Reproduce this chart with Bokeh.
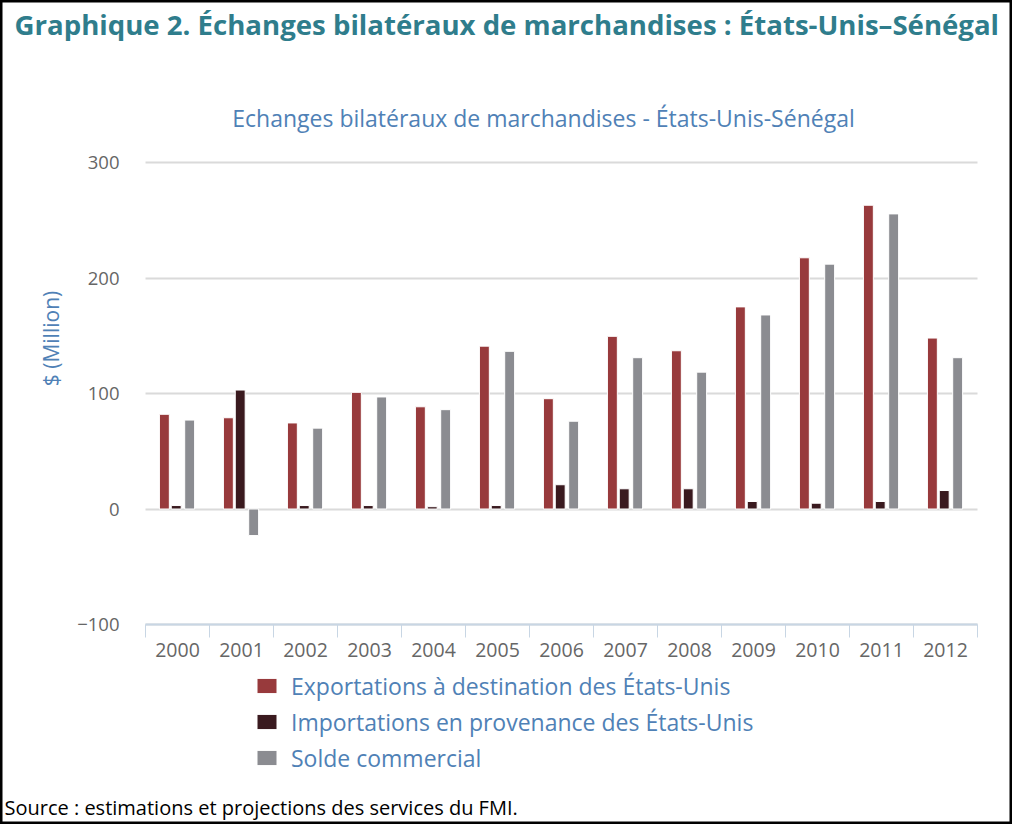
import math
from bokeh.plotting import figure
from bokeh.models import (ColumnDataSource, Range1d, FixedTicker, Label, Legend, LegendItem)
from bokeh.transform import dodge
from bokeh.embed import file_html
from bokeh.resources import INLINE

# ---- data ----
years = ["2000", "2001", "2002", "2003", "2004", "2005", "2006",
         "2007", "2008", "2009", "2010", "2011", "2012"]
exports = [82, 79, 74.5, 101, 88.5, 141, 95.5, 149.5, 137, 175, 217.5, 263, 148]
imports = [3, 103, 3, 3, 2, 3, 21, 17.5, 17.5, 6.5, 5, 6.5, 16]
solde = [77, -23, 70, 97, 86, 136.5, 76, 131, 118.5, 168, 212, 255.5, 131]
y_ticks = [-100, 0, 100, 200, 300]
series_names = ["Exportations à destination des États-Unis",
                "Importations en provenance des États-Unis",
                "Solde commercial"]

title_text = "Graphique 2. Échanges bilatéraux de marchandises : États-Unis–Sénégal"
subtitle_text = "Echanges bilatéraux de marchandises - États-Unis-Sénégal"
ylabel_text = "$ (Million)"
source_text = "Source : estimations et projections des services du FMI."

FONT = "Open Sans"
C_EXP = "#983a3c"
C_IMP = "#3a1a1f"
C_SOL = "#8b8c91"
C_BLUE = "#4f81b6"
C_TEAL = "#2f7d8c"
C_TICK = "#666666"

n = len(years)
idx = list(range(n))
src = ColumnDataSource(dict(x=idx, exports=exports, imports=imports, solde=solde))

# the frame fills the whole canvas; the axes are placed inside it
CW, CH = 1012, 824      # canvas size, placed at page (8, 8)
PXU = 64.0              # px per category
PYU = 1.155             # px per million
X0, Y0 = 153, 632       # page px of category edge -0.5 and of value -100
x_start = (8 - X0) / PXU - 0.5
x_end = (8 + CW - X0) / PXU - 0.5
y_end = (Y0 - 8) / PYU - 100
y_start = (Y0 - 8 - CH) / PYU - 100

p = figure(width=CW, height=CH, output_backend="svg", toolbar_location=None,
           x_range=Range1d(x_start, x_end), y_range=Range1d(y_start, y_end),
           min_border=0, title=None)
p.outline_line_color = "black"
p.outline_line_width = 4
p.background_fill_color = "white"
p.border_fill_color = "white"

# grid
p.xgrid.grid_line_color = None
p.ygrid.grid_line_color = "#dadada"
p.ygrid.grid_line_width = 2
p.ygrid.cross_bounds = (-0.5, n - 0.5)

# y axis
p.yaxis.fixed_location = -0.5
p.yaxis.ticker = FixedTicker(ticks=y_ticks)
p.yaxis.major_label_overrides = {-100: "−100"}
p.yaxis.axis_line_color = None
p.yaxis.major_tick_line_color = None
p.yaxis.minor_tick_line_color = None
p.yaxis.major_tick_out = 0
p.yaxis.major_label_standoff = 26
p.yaxis.major_label_text_font = FONT
p.yaxis.major_label_text_font_size = "18.5px"
p.yaxis.major_label_text_color = C_TICK

# x axis: labels at centers, separators (minor ticks) between categories
p.xaxis.fixed_location = -100
p.xaxis.bounds = (-0.5, n - 0.5)
p.xaxis.ticker = FixedTicker(ticks=idx, minor_ticks=[i - 0.5 for i in range(n + 1)])
p.xaxis.major_label_overrides = {i: y for i, y in zip(idx, years)}
p.xaxis.major_tick_line_color = None
p.xaxis.major_tick_out = 0
p.xaxis.major_tick_in = 0
p.xaxis.minor_tick_in = 0
p.xaxis.minor_tick_out = 13
p.xaxis.minor_tick_line_color = "#c8d6e4"
p.xaxis.minor_tick_line_width = 1
p.xaxis.axis_line_color = "#c8d6e4"
p.xaxis.axis_line_width = 2
p.xaxis.major_label_standoff = 5
p.xaxis.major_label_text_font = FONT
p.xaxis.major_label_text_font_size = "19.5px"
p.xaxis.major_label_text_color = C_TICK

W = 0.155
r1 = p.vbar(x=dodge("x", -0.205, range=p.x_range), top="exports", bottom=0, width=W,
            source=src, fill_color=C_EXP, line_color="white", line_width=1)
r2 = p.vbar(x=dodge("x", -0.02, range=p.x_range), top="imports", bottom=0, width=W,
            source=src, fill_color=C_IMP, line_color="white", line_width=1)
r3 = p.vbar(x=dodge("x", 0.19, range=p.x_range), top="solde", bottom=0, width=W,
            source=src, fill_color=C_SOL, line_color="white", line_width=1)

# texts (screen px from the frame's bottom-left corner)
def sx(X):
    return X - 8

def sy(Y):
    return 832 - Y

legend = Legend(items=[LegendItem(label=series_names[0], renderers=[r1]),
                       LegendItem(label=series_names[1], renderers=[r2]),
                       LegendItem(label=series_names[2], renderers=[r3])],
                location=(sx(262), sy(781.5)), orientation="vertical",
                glyph_width=25, glyph_height=19, label_height=27, spacing=4,
                label_standoff=12, padding=0, margin=0,
                label_text_font=FONT, label_text_font_size="23px",
                label_text_color=C_BLUE, border_line_color=None,
                background_fill_alpha=0)
p.add_layout(legend, "center")

p.add_layout(Label(x=sx(22), y=sy(31.5), x_units="screen", y_units="screen", text=title_text,
                   text_font=FONT, text_font_style="bold", text_font_size="27.6px",
                   text_color=C_TEAL, text_baseline="alphabetic", text_align="left"))
p.add_layout(Label(x=sx(551), y=sy(125.5), x_units="screen", y_units="screen", text=subtitle_text,
                   text_font=FONT, text_font_size="23px", text_color=C_BLUE,
                   text_baseline="middle", text_align="center"))
p.add_layout(Label(x=sx(58), y=sy(346), x_units="screen", y_units="screen", text=ylabel_text,
                   angle=math.pi / 2, text_font=FONT, text_font_size="21px",
                   text_color=C_BLUE, text_baseline="middle", text_align="center"))
p.add_layout(Label(x=sx(12), y=sy(815), x_units="screen", y_units="screen", text=source_text,
                   text_font=FONT, text_font_size="20px", text_color="black",
                   text_baseline="alphabetic", text_align="left"))

open("out.html", "w").write(file_html(p, INLINE))
